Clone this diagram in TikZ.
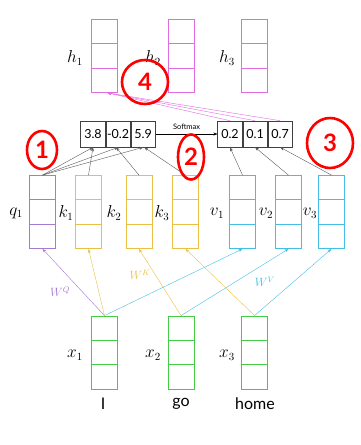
\documentclass[tikz,border=0pt]{standalone}
\usepackage{fontspec}
\newfontfamily\labelfont{Lato}
\usepackage{xcolor}
\usetikzlibrary{arrows.meta, positioning, calc, shapes.geometric}

\definecolor{qcol}{HTML}{A47AD2}
\definecolor{kcol}{HTML}{EBBE45}
\definecolor{vcol}{HTML}{45BEE6}
\definecolor{xcol}{HTML}{45CC45}
\definecolor{hcol}{HTML}{E26AE2}

\begin{document}
\begin{tikzpicture}[x=1pt, y=-1pt,
  vec/.style={draw=#1, line width=0.8pt, minimum width=26pt, minimum height=73pt, inner sep=0pt,
    path picture={
      \draw[#1, line width=0.8pt]
        ($(path picture bounding box.north west)!1/3!(path picture bounding box.south west)$) --
        ($(path picture bounding box.north east)!1/3!(path picture bounding box.south east)$)
        ($(path picture bounding box.north west)!2/3!(path picture bounding box.south west)$) --
        ($(path picture bounding box.north east)!2/3!(path picture bounding box.south east)$);}},
  score/.style={draw=black!75, line width=0.6pt, minimum width=24.5pt, minimum height=26pt, inner sep=0pt,
    font=\labelfont\fontsize{12.5}{14}\selectfont},
  lab/.style={font=\fontsize{16}{19}\selectfont, inner sep=0pt},
  word/.style={font=\labelfont\fontsize{16}{19}\selectfont, inner sep=0pt},
  wlab/.style={font=\fontsize{11.5}{13}\selectfont, inner sep=0pt},
  arr/.style={-{Stealth[length=4pt, width=3pt]}, line width=0.4pt},
  annot/.style={draw=red, ellipse, line width=2.6pt, text=red, inner sep=0pt,
    font=\labelfont\bfseries\fontsize{24}{26}\selectfont}
]
  \useasboundingbox (0,0) rectangle (360,445);

  % output vectors
  \node[vec=hcol] (h1) at (104.5,56) {};
  \node[vec=hcol] (h2) at (181,56) {};
  \node[vec=hcol] (h3) at (254.5,56) {};
  \node[lab] at (75,58) {$h_1$};
  \node[lab] at (153,58) {$h_2$};
  \node[lab] at (227,58) {$h_3$};

  % scores and softmax
  \node[score] (s1) at (93,134) {3.8};
  \node[score, right=0pt of s1] (s2) {-0.2};
  \node[score, right=0pt of s2] (s3) {5.9};
  \node[score] (p1) at (230,134) {0.2};
  \node[score, right=0pt of p1] (p2) {0.1};
  \node[score, right=0pt of p2] (p3) {0.7};
  \draw[arr] (s3) -- (p1) node[midway, above=1pt, font=\labelfont\fontsize{7.5}{9}\selectfont] {Softmax};

  % query, key, value vectors
  \node[vec=qcol] (q1) at (42.5,212) {};
  \node[vec=kcol] (k1) at (88.5,212) {};
  \node[vec=kcol] (k2) at (139,212) {};
  \node[vec=kcol] (k3) at (185.5,212) {};
  \node[vec=vcol] (v1) at (242.5,212) {};
  \node[vec=vcol] (v2) at (288.5,212) {};
  \node[vec=vcol] (v3) at (331.5,212) {};
  \node[lab] at (16,213) {$q_1$};
  \node[lab] at (66,213) {$k_1$};
  \node[lab] at (114,213) {$k_2$};
  \node[lab] at (162,213) {$k_3$};
  \node[lab] at (217,213) {$v_1$};
  \node[lab] at (266,213) {$v_2$};
  \node[lab] at (310,213) {$v_3$};

  % inputs
  \node[vec=xcol] (x1) at (104.5,352.5) {};
  \node[vec=xcol] (x2) at (181,352.5) {};
  \node[vec=xcol] (x3) at (254.5,352.5) {};
  \node[lab] at (75,355) {$x_1$};
  \node[lab] at (153,355) {$x_2$};
  \node[lab] at (227,355) {$x_3$};
  \node[word] at (103,404) {I};
  \node[word] at (181,404) {go};
  \node[word] at (255,404) {home};

  % projections
  \draw[arr, qcol] (x1.north) -- (q1.south);
  \draw[arr, kcol] (x1.north) -- (k1.south);
  \draw[arr, vcol] (x1.north) -- (v1.south);
  \draw[arr, kcol] (x2.north) -- (k2.south);
  \draw[arr, vcol] (x2.north) -- (v2.south);
  \draw[arr, kcol] (x3.north) -- (k3.south);
  \draw[arr, vcol] (x3.north) -- (v3.south);
  \node[wlab, text=qcol] at (60,292) {$W^Q$};
  \node[wlab, text=kcol] at (140,275) {$W^K$};
  \node[wlab, text=vcol] at (265,282) {$W^V$};

  % dot products
  \foreach \s in {s1,s2,s3}
    \draw[arr, black!65] (q1.north) -- (\s.south);
  \draw[arr, black!65] (k1.north) -- (s1.south);
  \draw[arr, black!65] (k2.north) -- ([xshift=-2pt]s2.south);
  \draw[arr, black!65] (k3.north) -- ([xshift=1pt]s3.south);
  \draw[arr, black!65] (v1.north) -- (p1.south);
  \draw[arr, black!65] (v2.north) -- (p2.south);
  \draw[arr, black!65] (v3.north) -- (p3.south);

  % weighted sum
  \foreach \p in {p1,p2,p3}
    \draw[arr, hcol] (\p.north) -- ([xshift=3pt]h1.south);

  % annotations
  \node[annot, minimum width=30pt, minimum height=38pt] at (42,150) {1};
  \node[annot, minimum width=26pt, minimum height=45pt] at (191,157) {2};
  \node[annot, minimum width=46pt, minimum height=50pt] at (330,143) {3};
  \node[annot, minimum width=46pt, minimum height=44pt] at (145,82) {4};
\end{tikzpicture}
\end{document}
